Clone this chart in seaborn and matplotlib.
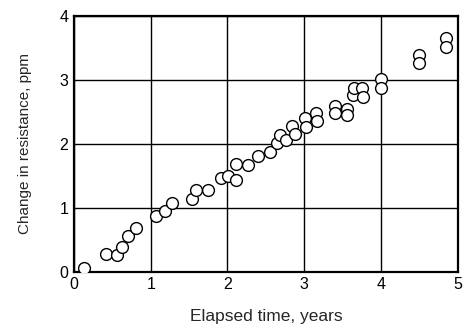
import pandas as pd
import seaborn as sns
import matplotlib.pyplot as plt

# Data
years = [0.13, 0.42, 0.56, 0.63, 0.71, 0.81, 1.07, 1.19, 1.28, 1.54, 1.59, 1.75,
         1.91, 2.01, 2.11, 2.11, 2.27, 2.40, 2.56, 2.65, 2.68, 2.76, 2.84, 2.88,
         3.01, 3.02, 3.15, 3.16, 3.40, 3.40, 3.56, 3.56, 3.64, 3.65, 3.75, 3.77,
         4.00, 4.00, 4.49, 4.49, 4.84, 4.84]
ppm = [0.06, 0.28, 0.26, 0.39, 0.56, 0.68, 0.88, 0.95, 1.08, 1.14, 1.28, 1.28,
       1.47, 1.50, 1.43, 1.68, 1.67, 1.81, 1.87, 2.02, 2.14, 2.06, 2.28, 2.16,
       2.40, 2.27, 2.48, 2.36, 2.59, 2.48, 2.55, 2.45, 2.76, 2.87, 2.87, 2.73,
       3.01, 2.87, 3.39, 3.27, 3.66, 3.52]
x_ticks = [0, 1, 2, 3, 4, 5]
y_ticks = [0, 1, 2, 3, 4]

df = pd.DataFrame({'years': years, 'ppm': ppm})

sns.set_style('white')
plt.rcParams['font.family'] = ['Liberation Sans', 'DejaVu Sans']

fig, ax = plt.subplots(figsize=(4.71, 3.26), dpi=100)
fig.subplots_adjust(left=0.157, right=0.972, top=0.951, bottom=0.166)

sns.scatterplot(data=df, x='years', y='ppm', ax=ax, s=72,
                facecolor='white', edgecolor='black', linewidth=1.0, zorder=3)

ax.set_xlim(0, 5)
ax.set_ylim(0, 4)
ax.set_xticks(x_ticks)
ax.set_yticks(y_ticks)
ax.grid(True, color='black', linewidth=1.0)
ax.set_axisbelow(True)
for sp in ax.spines.values():
    sp.set_color('black')
    sp.set_linewidth(1.6)
ax.tick_params(length=0, labelsize=11.5, colors='black', pad=4)
ax.set_xlabel('Elapsed time, years', fontsize=12.5, labelpad=12)
ax.set_ylabel('Change in resistance, ppm', fontsize=11, labelpad=20)

plt.savefig('out.png', dpi=100)
